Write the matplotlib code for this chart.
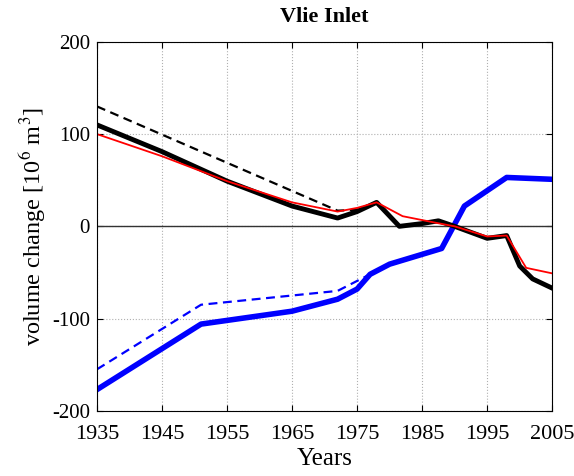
import numpy as np
import matplotlib
matplotlib.use('Agg')
import matplotlib.pyplot as plt

plt.rcParams['font.family'] = ['Liberation Serif', 'DejaVu Serif']
plt.rcParams['mathtext.fontset'] = 'stix'
plt.rcParams['axes.unicode_minus'] = False

# black (thick) measured volume change
yr_black = [1935, 1945, 1955, 1965, 1972, 1975, 1978, 1981.5, 1985, 1987.5, 1990, 1995, 1998, 2000, 2002, 2005]
vol_black = [110, 81, 49, 22, 9, 16, 26, 0, 3, 6, 0, -13, -10, -43, -57, -67]

# black dashed (extrapolated start)
yr_black_d = [1935, 1972, 1975, 1978]
vol_black_d = [130, 17, 18, 26]

# red line
yr_red = [1935, 1945, 1955, 1965, 1972, 1975, 1978, 1982, 1987, 1990, 1995, 1998, 2001, 2005]
vol_red = [100, 76, 49, 26, 16, 20, 26, 11, 4, 0, -11, -10, -45, -51]

# blue thick
yr_blue = [1935, 1951, 1955, 1965, 1972, 1975, 1977, 1980, 1988, 1991.5, 1998, 2005]
vol_blue = [-177, -106, -102, -92, -79, -68, -52, -41, -24, 22, 53, 51]

# blue dashed
yr_blue_d = [1935, 1951, 1972, 1977]
vol_blue_d = [-155, -85, -70, -52]

fig = plt.figure(figsize=(5.74, 4.76), dpi=100)
ax = fig.add_axes([0.169, 0.137, 0.793, 0.775])

ax.grid(True, ls=':', color='#b0b0b0', lw=0.8, zorder=0)
ax.set_axisbelow(True)
ax.axhline(0, color='#333333', lw=1.0, zorder=1.5)
ax.plot(yr_blue_d, vol_blue_d, color='blue', lw=1.6, ls=(0, (4, 2.5)))
ax.plot(yr_blue, vol_blue, color='blue', lw=4)
ax.plot(yr_black_d, vol_black_d, color='black', lw=1.6, ls=(0, (4, 2.5)))
ax.plot(yr_black, vol_black, color='black', lw=3.5)
ax.plot(yr_red, vol_red, color='red', lw=1.3)

ax.set_xlim(1935, 2005)
ax.set_ylim(-200, 200)
ax.set_xticks(np.arange(1935, 2006, 10))
ax.set_yticks([-200, -100, 0, 100, 200])
ax.tick_params(direction='in', top=True, right=True, length=4)
ax.tick_params(axis='x', pad=10, labelsize=16)
ax.tick_params(axis='y', pad=5, labelsize=15)

ax.set_title('Vlie Inlet', fontsize=16, fontweight='bold', pad=14)
ax.set_xlabel('Years', fontsize=18, labelpad=3)
ax.set_ylabel('volume change [10$^6$ m$^3$]', fontsize=17.5, labelpad=3)

plt.savefig('out.png', dpi=100)
